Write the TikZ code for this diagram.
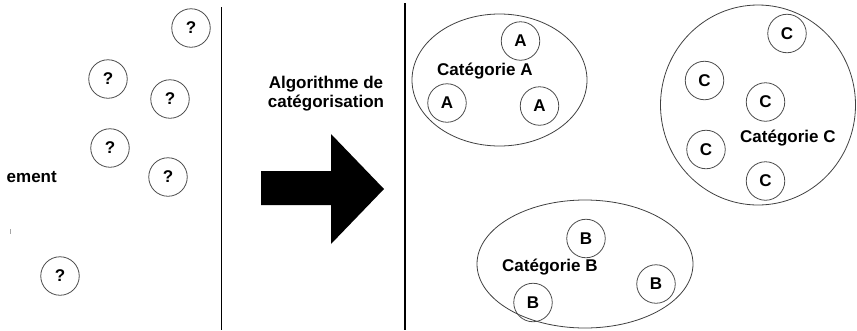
\documentclass[tikz,border=0pt]{standalone}
\usepackage{fontspec}
\setmainfont{Liberation Sans}
\usetikzlibrary{shapes.geometric}
\tikzset{
  lbl/.style={font=\bfseries\fontsize{17}{19}\selectfont, inner sep=0pt, text=black},
  tok/.style={lbl, circle, draw=black!70, line width=0.8pt, minimum size=38.5pt},
  grp/.style={ellipse, draw=black!75, line width=0.8pt, inner sep=0pt},
  sep/.style={draw=black, line width=1.1pt}
}
\begin{document}
\begin{tikzpicture}[x=1pt,y=-1pt]
\useasboundingbox (0,0) rectangle (857,330);
\clip (0,0) rectangle (857,330);
% separators
\coordinate (s1t) at (221.5,7);
\coordinate (s1b) at (221.5,330);
\coordinate (s2t) at (405,3);
\coordinate (s2b) at (405,330);
\draw[sep] (s1t) -- (s1b);
\draw[sep] (s2t) -- (s2b);
% left panel
\node[lbl, anchor=base east] (ement) at (57,182) {ement};
\draw[black!35, line width=0.8pt] (10,229) -- (10,234);
\node[tok] (q1) at (191,28) {?};
\node[tok] (q2) at (108,79) {?};
\node[tok] (q3) at (170,99) {?};
\node[tok] (q4) at (110,148) {?};
\node[tok] (q5) at (168,177) {?};
\node[tok] (q6) at (60,276) {?};
% middle
\node[lbl, anchor=base] (alg1) at (326,88) {Algorithme de};
\node[lbl, anchor=base] (alg2) at (326,107) {catégorisation};
\fill[black] (261,171) -- (331,171) -- (331,134) -- (384,189) -- (331,244) -- (331,205) -- (261,205) -- cycle;
% category A
\node[grp, minimum width=175pt, minimum height=132pt] (ga) at (499.5,80) {};
\node[lbl, anchor=base west] (la) at (437,75) {Catégorie A};
\node[tok] (a1) at (520.5,41) {A};
\node[tok] (a2) at (447,103) {A};
\node[tok] (a3) at (539.5,106) {A};
% category C
\node[grp, minimum width=195pt, minimum height=200pt] (gc) at (758,105) {};
\node[lbl, anchor=base west] (lc) at (740,142) {Catégorie C};
\node[tok] (c1) at (787,33.5) {C};
\node[tok] (c2) at (704.5,80.5) {C};
\node[tok] (c3) at (765.5,102) {C};
\node[tok] (c4) at (706,149.5) {C};
\node[tok] (c5) at (765.5,181) {C};
% category B
\node[grp, minimum width=216pt, minimum height=128pt] (gb) at (585,264) {};
\node[lbl, anchor=base west] (lb) at (502,271) {Catégorie B};
\node[tok] (b1) at (586,238.5) {B};
\node[tok] (b2) at (656,284) {B};
\node[tok] (b3) at (533,302.5) {B};
\end{tikzpicture}
\end{document}
